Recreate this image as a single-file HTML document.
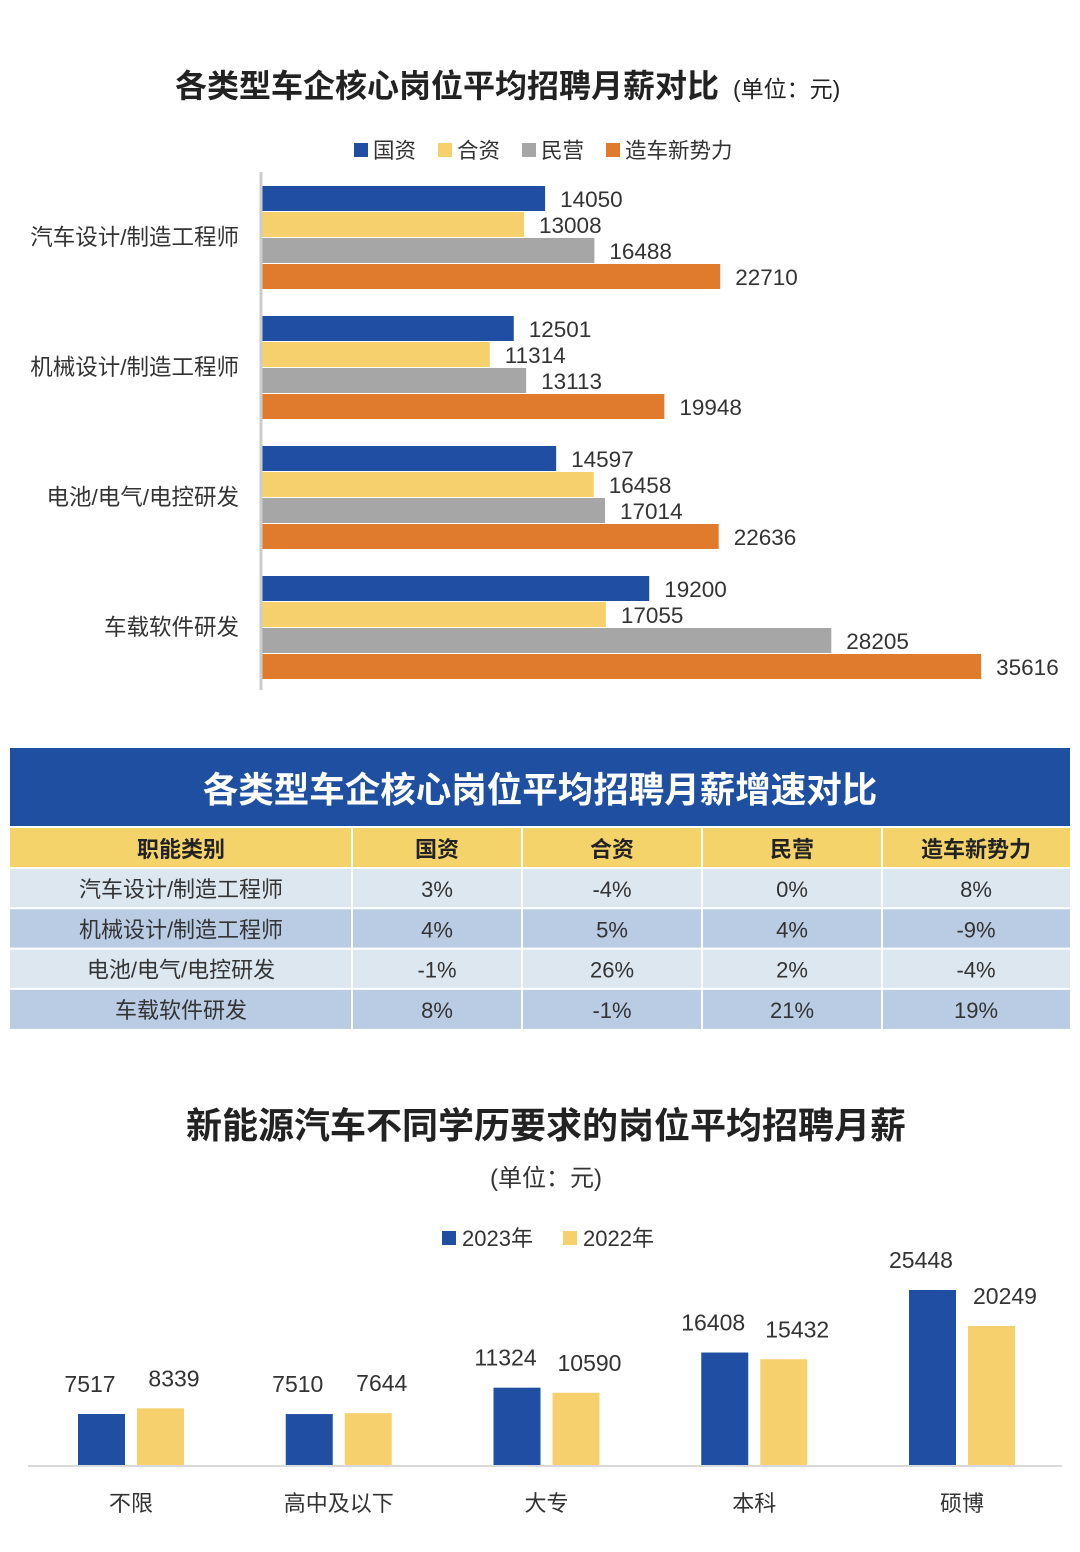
<!DOCTYPE html>
<html><head><meta charset="utf-8">
<style>
body{margin:0;background:#fff;font-family:"Liberation Sans","Noto Sans CJK SC",sans-serif;}
#root{position:relative;width:1080px;height:1552px;overflow:hidden;}
svg text{font-family:"Liberation Sans","Noto Sans CJK SC",sans-serif;}
</style></head>
<body><div id="root">
<svg id="s" width="1080" height="1552" xmlns="http://www.w3.org/2000/svg">
<text x="175" y="97" font-size="32" font-weight="bold" fill="#222">各类型车企核心岗位平均招聘月薪对比<tspan font-size="23" font-weight="normal" dx="14">(单位：元)</tspan></text>
<g id="c1"></g>
<rect x="10" y="748" width="1060" height="78" fill="#1f4fa0"/>
<text x="540" y="802" font-size="35.5" font-weight="bold" fill="#fff" text-anchor="middle">各类型车企核心岗位平均招聘月薪增速对比</text>
<g id="tbl"></g>
<text x="546" y="1138" font-size="36" font-weight="bold" fill="#222" text-anchor="middle">新能源汽车不同学历要求的岗位平均招聘月薪</text>
<text x="546" y="1186" font-size="24" fill="#333" text-anchor="middle">(单位：元)</text>
<g id="c3"></g>
</svg>
<script>
const NS='http://www.w3.org/2000/svg';
function mk(p,t,a,txt){const e=document.createElementNS(NS,t);for(const k in a)e.setAttribute(k,a[k]);if(txt!==undefined)e.textContent=txt;p.appendChild(e);return e;}
// Chart 1 data
const c1Categories=['汽车设计/制造工程师','机械设计/制造工程师','电池/电气/电控研发','车载软件研发'];
const c1Series=['国资','合资','民营','造车新势力'];
const c1Guozi=[14050,12501,14597,19200];
const c1Hezi=[13008,11314,16458,17055];
const c1Minying=[16488,13113,17014,28205];
const c1Xinshili=[22710,19948,22636,35616];
// Table data
const tHeaders=['职能类别','国资','合资','民营','造车新势力'];
const tRows=[['汽车设计/制造工程师','3%','-4%','0%','8%'],['机械设计/制造工程师','4%','5%','4%','-9%'],['电池/电气/电控研发','-1%','26%','2%','-4%'],['车载软件研发','8%','-1%','21%','19%']];
// Chart 3 data
const c3Categories=['不限','高中及以下','大专','本科','硕博'];
const c3Y2023=[7517,7510,11324,16408,25448];
const c3Y2022=[8339,7644,10590,15432,20249];

const colors=['#1f4ea3','#f5d06c','#a6a6a6','#e07b2e'];
// chart 1
const c1=document.getElementById('c1');
const x0=261,kx=0.02022;const xs=v=>x0+v*kx;
const series1=[c1Guozi,c1Hezi,c1Minying,c1Xinshili];
let lx=354;
c1Series.forEach((n,i)=>{
 const r=mk(c1,'rect',{x:lx,y:143,width:14,height:14,fill:colors[i]});
 
 const t=mk(c1,'text',{x:lx+19,y:158,'font-size':21.5,fill:'#333'},n);
 
 lx+=19+n.length*21.5+22;
});
c1Categories.forEach((c,g)=>{
 const gy=186+g*130;
 const l=mk(c1,'text',{x:239,y:gy+59,'font-size':22.5,fill:'#333','text-anchor':'end'},c);
 
 series1.forEach((s,i)=>{
  const y=gy+i*26;
  const b=mk(c1,'rect',{x:x0,y:y,width:xs(s[g])-x0,height:25,fill:colors[i]});
  
  const v=mk(c1,'text',{x:xs(s[g])+15,y:y+21,'font-size':22.5,fill:'#333'},s[g]);
  
 });
});
const ax=mk(c1,'line',{x1:261,y1:172,x2:261,y2:690,stroke:'#ccc','stroke-width':3});

// table
const tb=document.getElementById('tbl');
const cols=[10,352,522,702,882,1070];
const hr=mk(tb,'rect',{x:10,y:828,width:1060,height:39,fill:'#f5d36b'});

tHeaders.forEach((h,j)=>{
 const t=mk(tb,'text',{x:(cols[j]+cols[j+1])/2,y:857,'font-size':22,'font-weight':'bold','text-anchor':'middle',fill:'#222'},h);
 
});
tRows.forEach((row,i)=>{
 const y=868+i*40.3;
 const r=mk(tb,'rect',{x:10,y:y,width:1060,height:40,fill:i%2?'#b9cce4':'#dde7f0'});
 
 row.forEach((c,j)=>{
  const t=mk(tb,'text',{x:(cols[j]+cols[j+1])/2,y:y+29,'font-size':22,'text-anchor':'middle',fill:'#333'},c);
  
 });
 mk(tb,'line',{x1:10,y1:y,x2:1070,y2:y,stroke:'#fff','stroke-width':2});
});
cols.slice(1,5).forEach(cx=>mk(tb,'line',{x1:cx,y1:828,x2:cx,y2:1029,stroke:'#fff','stroke-width':2}));
// chart 3
const c3=document.getElementById('c3');
const base=1466,ky=0.006916;const ys=v=>base-v*ky;
[['2023年',colors[0],442],['2022年',colors[1],563]].forEach(([n,c,x])=>{
 const r=mk(c3,'rect',{x:x,y:1231,width:14,height:14,fill:c});
 
 const t=mk(c3,'text',{x:x+20,y:1246,'font-size':22,fill:'#333'},n);
 
});
c3Categories.forEach((c,i)=>{
 const bx=78+i*207.75;
 [[c3Y2023,colors[0],0],[c3Y2022,colors[1],59]].forEach(([s,col,off])=>{
  const b=mk(c3,'rect',{x:bx+off,y:ys(s[i]),width:47,height:base-ys(s[i]),fill:col});
  
  const v=mk(c3,'text',{x:off?bx+96:bx+12,y:ys(s[i])-22,'font-size':23,'text-anchor':'middle',fill:'#333'},s[i]);
  
 });
 const l=mk(c3,'text',{x:bx+53,y:1511,'font-size':22,'text-anchor':'middle',fill:'#333'},c);
 
});
const bl=mk(c3,'line',{x1:28,y1:base,x2:1062,y2:base,stroke:'#d9d9d9','stroke-width':2});

</script>
</div></body></html>
